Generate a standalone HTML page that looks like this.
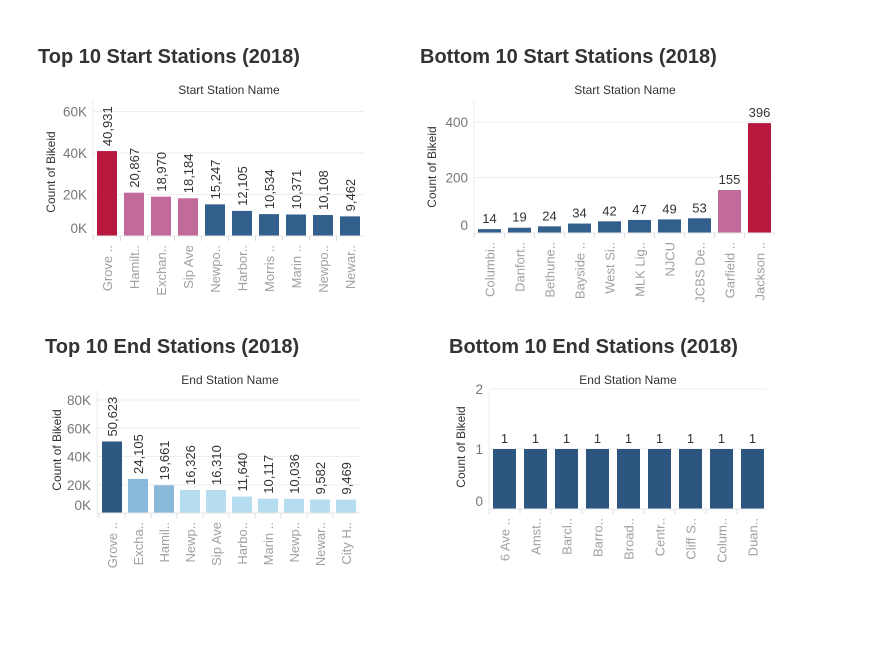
<!DOCTYPE html>
<html><head><meta charset="utf-8"><style>
body{margin:0;background:#fff;width:889px;height:657px;overflow:hidden;font-family:"Liberation Sans","DejaVu Sans",sans-serif}
svg text{font-family:"Liberation Sans","DejaVu Sans",sans-serif}
</style></head><body>
<svg id="s" width="889" height="657">
<text x="38" y="63" font-size="20" font-weight="bold" fill="#333">Top 10 Start Stations (2018)</text>
<text x="420" y="63" font-size="20" font-weight="bold" fill="#333">Bottom 10 Start Stations (2018)</text>
<text x="45" y="353" font-size="20" font-weight="bold" fill="#333">Top 10 End Stations (2018)</text>
<text x="449" y="353" font-size="20" font-weight="bold" fill="#333">Bottom 10 End Stations (2018)</text>
</svg>
<script>
const c1Cats=["Grove ..","Hamilt..","Exchan..","Sip Ave","Newpo..","Harbor..","Morris ..","Marin ..","Newpo..","Newar.."];
const c1Vals=[40931,20867,18970,18184,15247,12105,10534,10371,10108,9462];
const c1Ticks=[0,20000,40000,60000];
const c1TickLabels=["0K","20K","40K","60K"];
const c2Cats=["Columbi..","Danfort..","Bethune..","Bayside ..","West Si..","MLK Lig..","NJCU","JCBS De..","Garfield ..","Jackson .."];
const c2Vals=[14,19,24,34,42,47,49,53,155,396];
const c2Ticks=[0,200,400];
const c2TickLabels=["0","200","400"];
const c3Cats=["Grove ..","Excha..","Hamil..","Newp..","Sip Ave","Harbo..","Marin ..","Newp..","Newar..","City H.."];
const c3Vals=[50623,24105,19661,16326,16310,11640,10117,10036,9582,9469];
const c3Ticks=[0,20000,40000,60000,80000];
const c3TickLabels=["0K","20K","40K","60K","80K"];
const c4Cats=["6 Ave ..","Amst..","Barcl..","Barro..","Broad..","Centr..","Cliff S..","Colum..","Duan.."];
const c4Vals=[1,1,1,1,1,1,1,1,1];
const c4Ticks=[0,1,2];
const c4TickLabels=["0","1","2"];

const NS="http://www.w3.org/2000/svg";
const svg=document.getElementById('s');
function mk(tag,attrs,txt){const e=document.createElementNS(NS,tag);for(const k in attrs)e.setAttribute(k,attrs[k]);if(txt!==undefined)e.textContent=txt;svg.appendChild(e);return e;}

function chart(o){
  const y=v=>o.base-(v/o.vmax)*o.h;
  const x=i=>o.x0+i*o.step;
  let t=mk('text',{x:o.subX,y:o.subY,'font-size':12,fill:'#333','text-anchor':'middle'},o.sub);
  
  
  t=mk('text',{x:0,y:0,'font-size':12,fill:'#333','text-anchor':'middle',transform:`translate(${o.yTitleX},${o.yTitleY}) rotate(-90)`},'Count of Bikeid');
  
  
  o.ticks.forEach((tv,i)=>{
    const g=mk('line',{x1:o.axisX,x2:o.right,y1:y(tv),y2:y(tv),stroke:'#eee','stroke-width':1});
    
    
    let ly=y(tv)+5; if(tv===0&&o.zeroUp)ly-=8;
    const l=mk('text',{x:o.axisX-6,y:ly,'font-size':13.5,fill:'#777','text-anchor':'end'},o.tickLabels[i]);
    
    
  });
  const ax=mk('line',{x1:o.axisX,x2:o.axisX,y1:o.top,y2:o.base+4,stroke:'#eee'});
  
  
  o.vals.forEach((v,i)=>{
    const b=mk('rect',{x:x(i),y:y(v),width:o.bw,height:o.base-y(v),fill:o.color(i)});
    
    
    const cx=x(i)+o.bw/2;
    let lab;
    if(o.rotLabels){
      lab=mk('text',{x:0,y:0,'font-size':13,fill:'#333',transform:`translate(${cx+5},${y(v)-5}) rotate(-90)`},v.toLocaleString('en-US'));
    }else{
      lab=mk('text',{x:cx,y:y(v)-6,'font-size':13,fill:'#333','text-anchor':'middle'},v.toLocaleString('en-US'));
    }
    
    
    const cl=mk('text',{x:0,y:0,'font-size':13,fill:'#a0a0a0','text-anchor':'end',transform:`translate(${cx+5},${o.base+9}) rotate(-90)`},o.cats[i]);
    
    
    const tk=mk('line',{x1:x(i)-(o.step-o.bw)/2,x2:x(i)-(o.step-o.bw)/2,y1:o.base,y2:o.base+5,stroke:'#ddd'});
    
    
  });
  const bl=mk('line',{x1:o.axisX,x2:o.right,y1:o.base,y2:o.base,stroke:'#e6e6e6'});
  
  
}
const crim='#b8193f',pink='#c26a99',blue='#335f8c';
chart({cats:c1Cats,vals:c1Vals,ticks:c1Ticks,tickLabels:c1TickLabels,vmax:60000,h:124.5,base:236,top:100,x0:97,step:27,bw:20,axisX:93,right:364,sub:'Start Station Name',subX:229,subY:94,yTitleX:55,yTitleY:172,rotLabels:true,zeroUp:true,color:i=>i===0?crim:(i<4?pink:blue)});
chart({cats:c2Cats,vals:c2Vals,ticks:c2Ticks,tickLabels:c2TickLabels,vmax:400,h:111,base:233,top:100,x0:478,step:30,bw:23,axisX:474,right:775,sub:'Start Station Name',subX:625,subY:94,yTitleX:436,yTitleY:167,rotLabels:false,zeroUp:true,color:i=>i===9?crim:(i===8?pink:blue)});
chart({cats:c3Cats,vals:c3Vals,ticks:c3Ticks,tickLabels:c3TickLabels,vmax:80000,h:113,base:513,top:390,x0:102,step:26,bw:20,axisX:97,right:360,sub:'End Station Name',subX:230,subY:384,yTitleX:61,yTitleY:450,rotLabels:true,zeroUp:true,color:i=>i===0?'#2c5882':(i<3?'#8ab8da':'#b6dcf0')});
chart({cats:c4Cats,vals:c4Vals,ticks:c4Ticks,tickLabels:c4TickLabels,vmax:2,h:120,base:509,top:390,x0:493,step:31,bw:23,axisX:489,right:767,sub:'End Station Name',subX:628,subY:384,yTitleX:465,yTitleY:447,rotLabels:false,zeroUp:true,color:i=>'#2c5580'});
</script>
</body></html>
